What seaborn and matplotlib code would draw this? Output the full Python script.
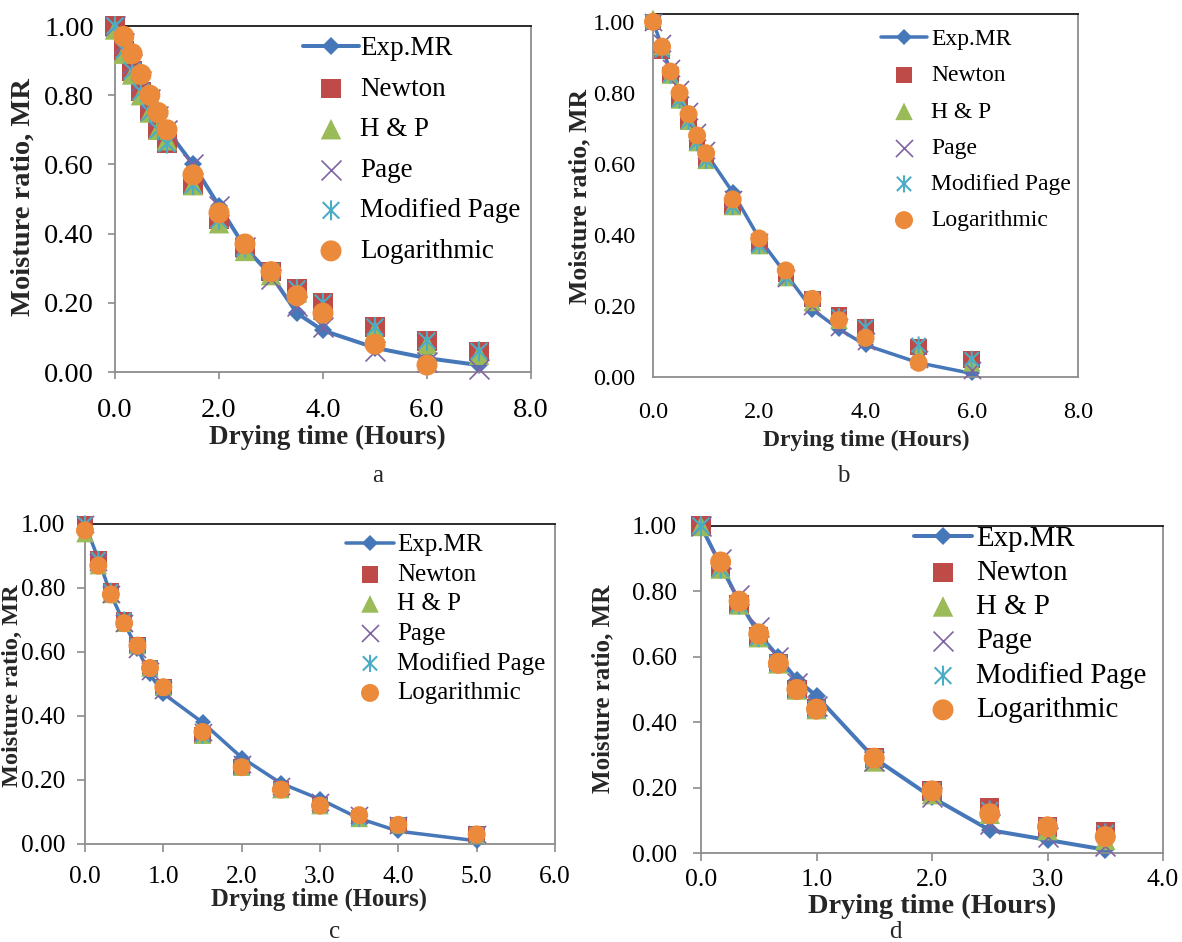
import numpy as np
import matplotlib
matplotlib.use("Agg")
import matplotlib.pyplot as plt
from matplotlib.path import Path
import seaborn as sns

nan = np.nan

# ---------------- data ----------------
labels = ["Exp.MR", "Newton", "H & P", "Page", "Modified Page", "Logarithmic"]

# panel a
t_a = [0, 0.17, 0.33, 0.5, 0.67, 0.83, 1.0, 1.5, 2.0, 2.5, 3.0, 3.5, 4.0, 5.0, 6.0, 7.0]
exp_a = [1.00, 0.94, 0.88, 0.83, 0.78, 0.74, 0.70, 0.60, 0.48, 0.36, 0.28, 0.17, 0.12, 0.07, 0.04, 0.02]
newton_a = [1.00, 0.93, 0.87, 0.81, 0.75, 0.70, 0.66, 0.54, 0.44, 0.36, 0.29, 0.24, 0.20, 0.13, 0.09, 0.06]
hp_a = [0.99, 0.92, 0.86, 0.80, 0.75, 0.70, 0.67, 0.54, 0.43, 0.35, 0.28, 0.23, 0.18, 0.12, 0.08, 0.05]
page_a = [1.00, 0.95, 0.89, 0.84, 0.79, 0.74, 0.70, 0.60, 0.48, 0.36, 0.27, 0.19, 0.13, 0.06, 0.03, 0.01]
modpage_a = [1.00, 0.93, 0.87, 0.81, 0.75, 0.70, 0.66, 0.54, 0.44, 0.36, 0.29, 0.24, 0.20, 0.13, 0.09, 0.06]
log_a = [nan, 0.97, 0.92, 0.86, 0.80, 0.75, 0.70, 0.57, 0.46, 0.37, 0.29, 0.22, 0.17, 0.08, 0.02, nan]

# panel b
t_b = [0, 0.17, 0.33, 0.5, 0.67, 0.83, 1.0, 1.5, 2.0, 2.5, 3.0, 3.5, 4.0, 5.0, 6.0]
exp_b = [1.00, 0.93, 0.86, 0.80, 0.74, 0.68, 0.63, 0.52, 0.39, 0.29, 0.19, 0.135, 0.09, 0.04, 0.01]
newton_b = [1.00, 0.92, 0.85, 0.78, 0.72, 0.66, 0.61, 0.48, 0.37, 0.29, 0.22, 0.175, 0.14, 0.085, 0.05]
hp_b = [1.01, 0.93, 0.85, 0.78, 0.72, 0.66, 0.61, 0.48, 0.37, 0.28, 0.21, 0.16, 0.12, 0.07, 0.04]
page_b = [1.00, 0.94, 0.87, 0.81, 0.75, 0.69, 0.64, 0.50, 0.38, 0.28, 0.20, 0.14, 0.10, 0.05, 0.02]
modpage_b = [1.00, 0.92, 0.85, 0.78, 0.72, 0.66, 0.61, 0.48, 0.37, 0.28, 0.22, 0.17, 0.14, 0.09, 0.05]
log_b = [1.00, 0.93, 0.86, 0.80, 0.74, 0.68, 0.63, 0.50, 0.39, 0.30, 0.22, 0.16, 0.11, 0.04, nan]

# panel c
t_c = [0, 0.17, 0.33, 0.5, 0.67, 0.83, 1.0, 1.5, 2.0, 2.5, 3.0, 3.5, 4.0, 5.0]
exp_c = [1.00, 0.89, 0.78, 0.69, 0.61, 0.53, 0.47, 0.38, 0.27, 0.19, 0.14, 0.08, 0.04, 0.01]
newton_c = [1.00, 0.89, 0.79, 0.70, 0.62, 0.55, 0.49, 0.34, 0.24, 0.17, 0.12, 0.08, 0.06, 0.03]
hp_c = [0.97, 0.87, 0.78, 0.69, 0.62, 0.55, 0.49, 0.34, 0.24, 0.17, 0.12, 0.08, 0.06, 0.03]
page_c = [1.00, 0.88, 0.78, 0.69, 0.61, 0.54, 0.48, 0.35, 0.25, 0.18, 0.13, 0.09, 0.06, 0.03]
modpage_c = [1.00, 0.89, 0.79, 0.70, 0.62, 0.55, 0.49, 0.34, 0.24, 0.17, 0.12, 0.08, 0.06, 0.03]
log_c = [0.98, 0.87, 0.78, 0.69, 0.62, 0.55, 0.49, 0.35, 0.24, 0.17, 0.12, 0.09, 0.06, 0.03]

# panel d
t_d = [0, 0.17, 0.33, 0.5, 0.67, 0.83, 1.0, 1.5, 2.0, 2.5, 3.0, 3.5]
exp_d = [1.00, 0.88, 0.77, 0.67, 0.60, 0.53, 0.48, 0.29, 0.17, 0.07, 0.04, 0.01]
newton_d = [1.00, 0.87, 0.76, 0.66, 0.58, 0.50, 0.44, 0.29, 0.19, 0.14, 0.08, 0.065]
hp_d = [1.00, 0.87, 0.76, 0.66, 0.58, 0.50, 0.44, 0.28, 0.18, 0.12, 0.07, 0.04]
page_d = [1.00, 0.90, 0.79, 0.69, 0.60, 0.52, 0.45, 0.28, 0.17, 0.09, 0.05, 0.02]
modpage_d = [1.00, 0.87, 0.76, 0.66, 0.58, 0.50, 0.44, 0.29, 0.19, 0.13, 0.08, 0.06]
log_d = [nan, 0.89, 0.77, 0.67, 0.58, 0.50, 0.44, 0.29, 0.19, 0.12, 0.08, 0.05]

panel_letters = ["a", "b", "c", "d"]
xlabel_text = "Drying time (Hours)"
ylabel_text = "Moisture ratio, MR"

# ---------------- style ----------------
sns.set_theme(style="white")
plt.rcParams["font.family"] = ["Liberation Serif", "DejaVu Serif"]

W, H = 1182, 942
DPI = 100
PT = 72.0 / DPI  # points per pixel

C_EXP = "#4677B8"
C_NEW = "#BE4B48"
C_HP = "#9BBB59"
C_PAGE = "#8064A2"
C_MOD = "#4BACC6"
C_LOG = "#EC8A3C"
SPINE = "#8C8C8C"

star_path = Path(
    [(-1, -1), (1, 1), (-1, 1), (1, -1), (0, -1.2), (0, 1.2)],
    [Path.MOVETO, Path.LINETO, Path.MOVETO, Path.LINETO, Path.MOVETO, Path.LINETO],
)

fig = plt.figure(figsize=(W / DPI, H / DPI), dpi=DPI)
fig.patch.set_facecolor("white")


def panel(t, exp, newton, hp, page, modpage, log, cfg):
    x0, x1, yt, yb = cfg["box"]
    ax = fig.add_axes([x0 / W, 1 - yb / H, (x1 - x0) / W, (yb - yt) / H])
    mk = cfg["mk"]  # marker size in px
    ms = mk * PT
    s2 = ms ** 2

    sns.lineplot(x=t, y=exp, ax=ax, color=C_EXP, linewidth=cfg["lw"] * PT,
                 marker="D", markersize=cfg["dia"] * PT, markeredgecolor=C_EXP,
                 markeredgewidth=0, clip_on=False, label=labels[0], legend=False,
                 errorbar=None, zorder=2)
    arts = []
    arts.append(sns.scatterplot(x=t, y=newton, ax=ax, color=C_NEW, marker="s", s=s2 * 0.85,
                                edgecolor="none", clip_on=False, legend=False, zorder=3).collections[-1])
    arts.append(sns.scatterplot(x=t, y=hp, ax=ax, color=C_HP, marker="^", s=s2 * 0.95,
                                edgecolor="none", clip_on=False, legend=False, zorder=4).collections[-1])
    arts.append(sns.scatterplot(x=t, y=page, ax=ax, color=C_PAGE, marker="x", s=s2 * 0.9,
                                linewidth=1.2, clip_on=False, legend=False, zorder=5).collections[-1])
    arts.append(sns.scatterplot(x=t, y=modpage, ax=ax, color=C_MOD, marker=star_path,
                                s=s2 * 0.9, facecolor="none", edgecolor=C_MOD, linewidth=1.5,
                                clip_on=False, legend=False, zorder=6).collections[-1])
    arts.append(sns.scatterplot(x=t, y=log, ax=ax, color=C_LOG, marker="o", s=s2,
                                edgecolor="none", clip_on=False, legend=False,
                                zorder=7).collections[-1])

    ax.set_xlim(0, cfg["xmax"])
    ax.set_ylim(0, cfg["ymax"])
    ax.set_xticks(np.arange(0, cfg["xmax"] + 1e-9, cfg["xstep"]))
    ax.set_yticks(np.arange(0, 1.0 + 1e-9, 0.2))
    ax.xaxis.set_major_formatter(matplotlib.ticker.FormatStrFormatter("%.1f"))
    ax.yaxis.set_major_formatter(matplotlib.ticker.FormatStrFormatter("%.2f"))

    tl = cfg["ticklen"] * PT
    ax.tick_params(axis="both", which="major", direction="out", length=tl,
                   width=1.2, color=SPINE, labelsize=cfg["tfs"], labelcolor="black",
                   bottom=True, left=True)
    ax.tick_params(axis="x", pad=cfg["xpad"] * PT)
    ax.tick_params(axis="y", pad=cfg["ypad"] * PT)

    for side in ["left", "right", "bottom"]:
        ax.spines[side].set_color(SPINE)
        ax.spines[side].set_linewidth(1.3)
    ax.spines["top"].set_color("#1a1a1a")
    ax.spines["top"].set_linewidth(1.3)
    ax.set_facecolor("white")

    ax.set_xlabel(xlabel_text, fontsize=cfg["xlfs"], fontweight="bold")
    ax.set_ylabel(ylabel_text, fontsize=cfg["ylfs"], fontweight="bold")
    xl = cfg["xlab"]
    yl = cfg["ylab"]
    ax.xaxis.set_label_coords((xl[0] - x0) / (x1 - x0), (yb - xl[1]) / (yb - yt))
    ax.yaxis.set_label_coords((yl[0] - x0) / (x1 - x0), (yb - yl[1]) / (yb - yt))
    ax.xaxis.label.set_va("center")
    ax.yaxis.label.set_va("center")
    ax.yaxis.label.set_ha("center")

    # legend
    fs = cfg["lfs"]
    fpx = fs / PT
    left, row1, hpx, tx, rowpx = cfg["leg"]
    handles = [ax.lines[0]] + arts
    leg = ax.legend(handles, labels, loc="upper left",
                    bbox_to_anchor=(left / W, 1 - (row1 - 0.40 * fpx) / H),
                    bbox_transform=fig.transFigure, frameon=False, fontsize=fs,
                    borderpad=0, borderaxespad=0, handlelength=hpx / fpx,
                    handletextpad=max(tx - left - hpx, 0) / fpx,
                    labelspacing=(rowpx - 0.88 * fpx) / fpx, scatterpoints=1)
    for txt in leg.get_texts():
        txt.set_color("black")
    return ax


cfg_a = dict(box=(115, 531, 26, 372), xmax=8, xstep=2, ymax=1.0, mk=21, dia=13, lw=4,
             ticklen=7, tfs=20.5, xpad=19, ypad=14, xlfs=19.5, ylfs=20.5,
             xlab=(327, 437), ylab=(23, 197), lfs=19.5, leg=(303, 47, 56, 360, 39.4))
cfg_b = dict(box=(653, 1078, 14, 377), xmax=8, xstep=2, ymax=1.022, mk=18, dia=11, lw=3.5,
             ticklen=0, tfs=17.5, xpad=25, ypad=18, xlfs=17, ylfs=18.5,
             xlab=(866, 440), ylab=(580, 196), lfs=17, leg=(881, 38, 46, 931, 35.5))
cfg_c = dict(box=(85, 555, 524, 844), xmax=6, xstep=1, ymax=1.0, mk=18, dia=11, lw=3.5,
             ticklen=8, tfs=18.3, xpad=14, ypad=12, xlfs=17.8, ylfs=17.5,
             xlab=(319, 899), ylab=(12, 686), lfs=18, leg=(346, 544, 48, 397, 29))
cfg_d = dict(box=(701, 1163, 526, 853), xmax=4, xstep=1, ymax=1.0, mk=21, dia=13, lw=4,
             ticklen=8, tfs=18.5, xpad=8, ypad=16, xlfs=20.5, ylfs=18,
             xlab=(932, 906), ylab=(603, 689), lfs=20.8, leg=(914, 537, 58, 976, 33.4))

panel(t_a, exp_a, newton_a, hp_a, page_a, modpage_a, log_a, cfg_a)
panel(t_b, exp_b, newton_b, hp_b, page_b, modpage_b, log_b, cfg_b)
panel(t_c, exp_c, newton_c, hp_c, page_c, modpage_c, log_c, cfg_c)
panel(t_d, exp_d, newton_d, hp_d, page_d, modpage_d, log_d, cfg_d)

letter_pos = [(378, 476), (843, 476), (335, 932), (895, 932)]
for letter, (lx, ly) in zip(panel_letters, letter_pos):
    fig.text(lx / W, 1 - ly / H, letter, fontsize=18, ha="center", va="center")

fig.savefig("out.png", dpi=DPI, facecolor="white")
